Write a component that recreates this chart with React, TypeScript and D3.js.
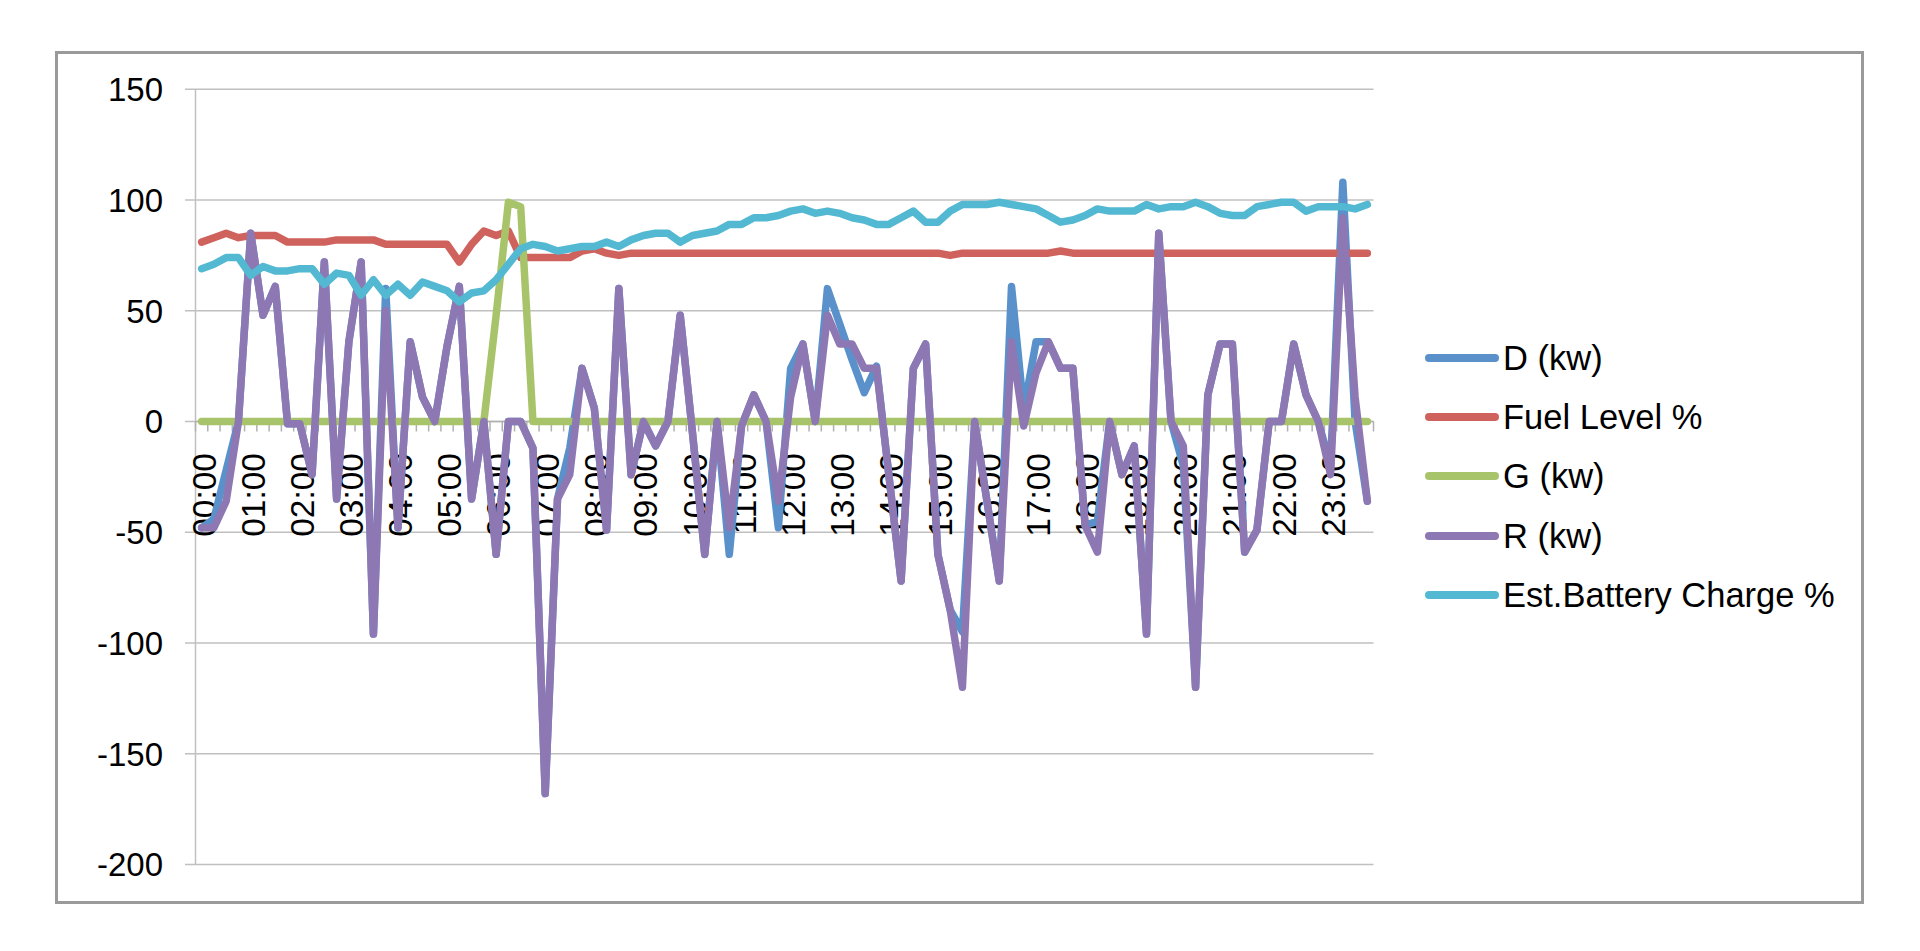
import React from "react";
import * as d3 from "d3";

const hourLabels = ["00:00","01:00","02:00","03:00","04:00","05:00","06:00","07:00","08:00","09:00","10:00","11:00","12:00","13:00","14:00","15:00","16:00","17:00","18:00","19:00","20:00","21:00","22:00","23:00"];
const quarterSuffix = ["00", "15", "30", "45"];
const categories: string[] = hourLabels.flatMap((h) => quarterSuffix.map((q) => h.slice(0, 3) + q));

const dKw = [-48,-44,-22,0,85,48,61,-1,-1,-24,72,-35,36,72,-96,60,
  -48,36,11,0,34,61,-35,0,-60,0,0,-12,-168,-35,-12,24,
  6,-49,60,-24,0,-11,0,48,-5,-60,0,-60,-2,12,0,-48,
  24,35,0,60,44,28,13,25,-24,-72,24,35,-60,-85,-95,0,
  -36,-72,61,5,36,36,24,24,-47,-45,0,-24,-11,-96,85,0,
  -20,-120,12,35,35,-59,-49,0,0,35,12,0,-20,108,0,-36];

const fuel = [81,83,85,83,84,84,84,81,81,81,81,82,82,82,82,80,
  80,80,80,80,80,72,80,86,84,86,74,74,74,74,74,77,
  78,76,75,76,76,76,76,76,76,76,76,76,76,76,76,76,
  76,76,76,76,76,76,76,76,76,76,76,76,76,75,76,76,
  76,76,76,76,76,76,77,76,76,76,76,76,76,76,76,76,
  76,76,76,76,76,76,76,76,76,76,76,76,76,76,76,76];

const gKw = [0,0,0,0,0,0,0,0,0,0,0,0,0,0,0,0,
  0,0,0,0,0,0,0,0,48,99,97,0,0,0,0,0,
  0,0,0,0,0,0,0,0,0,0,0,0,0,0,0,0,
  0,0,0,0,0,0,0,0,0,0,0,0,0,0,0,0,
  0,0,0,0,0,0,0,0,0,0,0,0,0,0,0,0,
  0,0,0,0,0,0,0,0,0,0,0,0,0,0,0,0];

const rKw = [-48,-48,-36,0,85,48,61,-1,-1,-24,72,-35,36,72,-96,50,
  -48,36,11,0,34,61,-35,0,-60,0,0,-12,-168,-35,-24,24,
  6,-49,60,-24,0,-11,0,48,-5,-60,0,-48,-2,12,0,-36,
  11,35,0,48,35,35,24,24,-24,-72,24,35,-60,-85,-120,0,
  -36,-72,36,-2,22,36,24,24,-47,-59,0,-24,-11,-96,85,0,
  -11,-120,12,35,35,-59,-49,0,0,35,12,0,-24,92,11,-36];

const battery = [69,71,74,74,66,70,68,68,69,69,62,67,66,57,64,57,
  62,57,63,61,59,54,58,59,64,71,78,80,79,77,78,79,
  79,81,79,82,84,85,85,81,84,85,86,89,89,92,92,93,
  95,96,94,95,94,92,91,89,89,92,95,90,90,95,98,98,
  98,99,98,97,96,93,90,91,93,96,95,95,95,98,96,97,
  97,99,97,94,93,93,97,98,99,99,95,97,97,97,96,98];

const yTicks = [150, 100, 50, 0, -50, -100, -150, -200];

const seriesNames = ["D (kw)", "Fuel Level %", "G (kw)", "R (kw)", "Est.Battery Charge %"];
const seriesColors = ["#5a91cb", "#cf625c", "#a8c46a", "#8e78b3", "#53b8d1"];
const seriesValues = [dKw, fuel, gKw, rKw, battery];

const FONT = "'Liberation Sans', Arial, sans-serif";

export default function App() {
  const W = 1920, H = 951;
  const left = 195.5, right = 1373.5, top = 89.3, bottom = 864.4;

  const x = d3.scaleBand<string>().domain(categories).range([left, right]).paddingInner(0).paddingOuter(0);
  const y = d3.scaleLinear().domain([-200, 150]).range([bottom, top]);
  const bw = x.bandwidth();
  const cx = (c: string) => (x(c) as number) + bw / 2;

  const line = d3.line<number>()
    .x((_, i) => cx(categories[i]))
    .y((v) => y(v));

  const y0 = y(0);
  const tickBoundaries = d3.range(categories.length + 1).map((i) => left + i * bw);

  const legendX0 = 1429, legendX1 = 1495, legendText = 1503;
  const legendRows = [358, 417, 476, 536, 595];

  return (
    <svg width={W} height={H} viewBox={`0 0 ${W} ${H}`} style={{ position: "fixed", left: 0, top: 0, background: "#fff" }}>
      <rect x={0} y={0} width={W} height={H} fill="#fff" />
      <rect x={56.5} y={52.5} width={1806} height={850} fill="#fff" stroke="#9a9a9a" strokeWidth={3} />

      {/* gridlines and y ticks */}
      {yTicks.map((t) => (
        <g key={t}>
          <line x1={185} x2={right} y1={y(t)} y2={y(t)} stroke="#c0c0c0" strokeWidth={1.5} />
          <text x={163} y={y(t)} dy="0.36em" textAnchor="end" fontFamily={FONT} fontSize={33} fill="#000">
            {t}
          </text>
        </g>
      ))}
      {/* y axis */}
      <line x1={left} x2={left} y1={top} y2={bottom} stroke="#c0c0c0" strokeWidth={1.5} />

      {/* x axis line and ticks */}
      <line x1={left} x2={right} y1={y0} y2={y0} stroke="#b0b0b0" strokeWidth={1.5} />
      {tickBoundaries.map((tx, i) => (
        <line key={i} x1={tx} x2={tx} y1={y0} y2={y0 + 10} stroke="#b0b0b0" strokeWidth={1.5} />
      ))}

      {/* x labels */}
      {hourLabels.map((h, i) => {
        const c = categories[i * 4];
        return (
          <text key={h} transform={`translate(${cx(c)},${453}) rotate(-90)`} dy="0.42em" textAnchor="end"
            fontFamily={FONT} fontSize={33.5} fill="#000">
            {h}
          </text>
        );
      })}

      {/* series */}
      {seriesValues.map((vals, si) => (
        <path key={si} d={line(vals) || ""} fill="none" stroke={seriesColors[si]} strokeWidth={7.5}
          strokeLinejoin="round" strokeLinecap="round" />
      ))}

      {/* legend */}
      {seriesNames.map((n, i) => (
        <g key={n}>
          <line x1={legendX0} x2={legendX1} y1={legendRows[i]} y2={legendRows[i]} stroke={seriesColors[i]}
            strokeWidth={8} strokeLinecap="round" />
          <text x={legendText} y={legendRows[i]} dy="0.36em" fontFamily={FONT} fontSize={34.5} fill="#000">
            {n}
          </text>
        </g>
      ))}
    </svg>
  );
}
